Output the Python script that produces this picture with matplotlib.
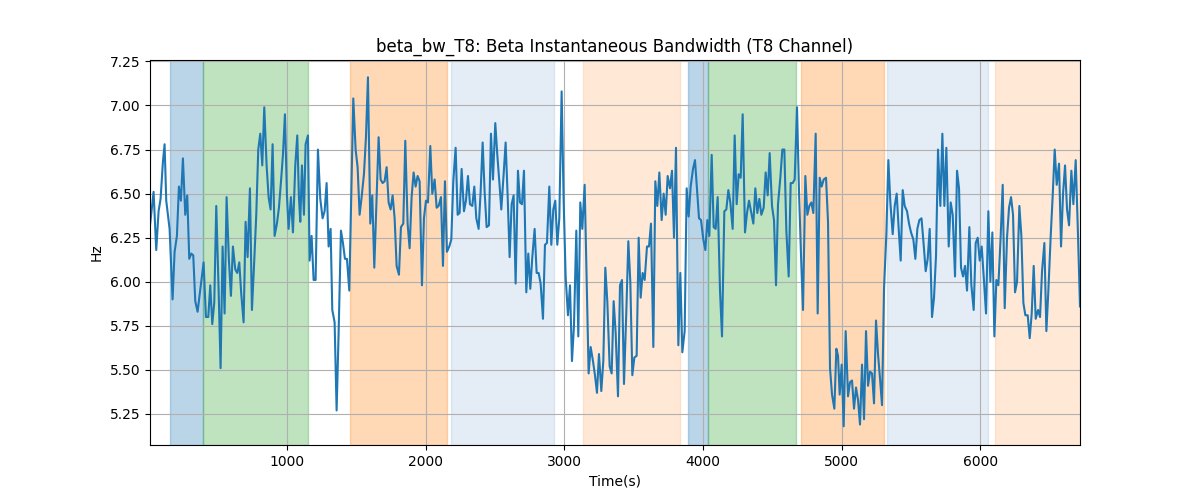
import matplotlib
matplotlib.use("Agg")
import matplotlib.pyplot as plt
import numpy as np

# ---------------------------------------------------------------------------
# Data (time in s, beta bandwidth in Hz)
# ---------------------------------------------------------------------------
time_s = [
    10, 35.8, 55.1, 71.9, 86.3, 103.2, 115.2, 127.2, 151.3, 172.9, 187.4, 204.2,
    218.6, 233.0, 247.5, 264.3, 278.7, 293.2, 307.6, 322.0, 336.5, 353.3, 379.8,
    396.6, 413.4, 430.3, 444.7, 459.1, 473.5, 488.0, 504.8, 519.2, 533.7, 548.1,
    562.5, 579.4, 593.8, 608.2, 625.1, 639.5, 654.0, 668.4, 685.2, 699.6, 714.1,
    730.9, 745.3, 759.7, 776.6, 791.0, 805.4, 819.9, 834.3,
    851.2, 865.6, 880.0, 894.4, 908.9, 925.7, 940.1, 957.0, 969.0, 983.4, 997.9,
    1009.9, 1026.7, 1041.2, 1058.0, 1072.4, 1084.4, 1094.1, 1106.1, 1120.5,
    1132.5, 1149.4, 1161.4, 1175.8, 1190.3, 1204.7, 1221.5, 1238.4, 1255.2,
    1269.6, 1284.1, 1298.5, 1312.9, 1325.0, 1341.8, 1356.2, 1370.6, 1387.5,
    1401.9, 1416.3, 1430.8, 1447.6, 1462.0, 1476.5, 1493.3, 1507.7, 1522.2,
    1536.6, 1553.4, 1567.9, 1582.3, 1599.1, 1613.5, 1628.0, 1644.8,
    1659.2, 1673.6, 1688.1, 1702.5, 1717.0, 1731.4, 1745.8, 1760.2, 1774.7,
    1789.1, 1805.9, 1820.3, 1837.2, 1851.6, 1868.4, 1882.9, 1897.3, 1911.7,
    1926.2, 1940.6, 1955.0, 1971.9, 1986.3, 2000.7, 2015.2, 2032.0, 2046.4,
    2063.3, 2077.7, 2092.1, 2109.0, 2123.4, 2137.8, 2152.2, 2169.1, 2183.5,
    2197.9, 2214.8, 2229.2, 2243.6, 2258.1, 2274.9, 2289.3, 2303.8, 2318.2,
    2335.0, 2349.5, 2363.9, 2380.7, 2395.1, 2409.6, 2424.0, 2438.4, 2455.3,
    2469.7,
    2484.1, 2500.9, 2515.4, 2529.8, 2544.2, 2561.1, 2575.5, 2589.9, 2604.3,
    2618.8, 2633.2, 2647.6, 2664.5, 2678.9, 2693.3, 2707.8, 2724.6, 2739.0,
    2753.5, 2767.9, 2784.7, 2799.2, 2813.6, 2828.0, 2844.9, 2859.3, 2873.7,
    2890.5, 2905.0, 2919.4, 2933.8, 2948.3, 2962.7, 2979.5, 2994.0, 3008.4,
    3025.2, 3039.7, 3054.1, 3068.5, 3085.4, 3099.8, 3114.2, 3128.6, 3145.5,
    3159.9, 3174.3, 3188.8, 3205.6, 3220.0, 3234.5, 3248.9, 3265.7, 3280.2,
    3294.6, 3309.0,
    3325.9, 3340.4, 3354.8, 3369.2, 3386.1, 3400.5, 3414.9, 3429.3, 3446.2,
    3460.6, 3475.0, 3489.5, 3503.9, 3520.7, 3535.2, 3549.6, 3564.0, 3578.5,
    3595.3, 3609.7, 3624.1, 3641.0, 3655.4, 3669.8, 3684.3, 3701.1, 3715.5,
    3730.0, 3744.4, 3761.2, 3775.7, 3790.1, 3804.5, 3821.4, 3835.8, 3850.2,
    3867.1, 3881.5, 3895.9, 3910.3, 3927.2, 3941.6, 3956.0, 3970.5, 3984.9,
    4001.7, 4016.2, 4030.6, 4045.0, 4061.9, 4076.3, 4090.7, 4105.1, 4122.0,
    4136.4,
    4153.2, 4167.7, 4182.1, 4196.5, 4213.3, 4227.8, 4242.2, 4256.6, 4271.1,
    4285.5, 4302.3, 4316.8, 4331.2, 4345.6, 4362.5, 4376.9, 4391.3, 4405.7,
    4420.2, 4437.0, 4451.4, 4465.9, 4480.3, 4497.1, 4511.6, 4526.0, 4540.4,
    4557.3, 4571.7, 4586.1, 4600.6, 4617.4, 4631.8, 4646.2, 4660.7, 4677.5,
    4691.9, 4706.4, 4720.8, 4737.6, 4752.1, 4766.5, 4780.9, 4795.4, 4812.2,
    4826.6, 4841.1, 4855.5, 4869.9, 4886.8, 4901.2, 4915.6, 4930.1, 4946.9,
    4961.3,
    4973.3, 4985.3, 4999.8, 5014.2, 5028.6, 5045.5, 5059.9, 5074.3, 5088.7,
    5103.2, 5117.6, 5132.0, 5146.5, 5160.9, 5175.3, 5189.8, 5204.2, 5218.6,
    5233.0, 5247.5, 5261.9, 5276.3, 5290.8, 5305.2, 5322.0, 5336.5, 5350.9,
    5367.7, 5382.2, 5396.6, 5411.0, 5425.5, 5439.9, 5454.3, 5471.2, 5485.6,
    5500.0, 5516.8, 5531.3, 5545.7, 5560.1, 5575.6, 5591.4, 5605.8, 5620.2,
    5634.7, 5651.5, 5665.9, 5680.4, 5694.8, 5711.6, 5726.1, 5740.5, 5754.9,
    5771.8, 5786.2, 5800.6,
    5817.4, 5831.9, 5846.3, 5860.7, 5875.2, 5889.6, 5904.0, 5920.8, 5935.3,
    5952.1, 5966.5, 5981.0, 5995.4, 6009.8, 6026.7, 6041.1, 6057.9, 6072.4,
    6086.8, 6101.2, 6115.7, 6130.1, 6146.9, 6161.4, 6175.8, 6192.6, 6207.0,
    6221.5, 6235.9, 6250.3, 6264.8, 6281.6, 6296.0, 6310.5, 6324.9, 6341.7,
    6356.2, 6370.6, 6385.0, 6399.4, 6416.3, 6430.7, 6445.1, 6462.0, 6476.4,
    6490.8, 6507.7, 6522.1, 6536.5, 6551.0, 6567.8, 6582.2, 6596.7, 6611.1,
    6625.5, 6640.0, 6656.8, 6671.2, 6688.0, 6702.5, 6719.0,
]

beta_bw = [
    6.32, 6.51, 6.18, 6.40, 6.47, 6.68, 6.78, 6.46, 6.30, 5.90, 6.17, 6.26,
    6.54, 6.46, 6.70, 6.38, 6.49, 6.13, 6.16, 6.15, 5.89, 5.83, 6.00,
    6.11, 5.80, 5.80, 5.98, 5.76, 5.88, 6.43, 5.96, 5.51, 6.20, 5.82,
    6.48, 6.12, 5.92, 6.20, 6.07, 6.05, 6.11, 5.93, 5.77, 6.34, 6.14,
    6.53, 5.84, 6.08, 6.38, 6.75, 6.84, 6.66, 6.99,
    6.66, 6.48, 6.41, 6.78, 6.26, 6.33, 6.42, 6.59, 6.72, 6.95, 6.49,
    6.30, 6.48, 6.28, 6.66, 6.83, 6.48, 6.34, 6.66, 6.38,
    6.78, 6.83, 6.12, 6.26, 6.01, 6.01, 6.75, 6.47, 6.36,
    6.40, 6.56, 6.20, 6.30, 5.84, 5.77, 5.27, 5.71, 6.29,
    6.22, 6.13, 6.13, 5.95, 6.48, 7.04, 6.75, 6.65, 6.38,
    6.48, 6.61, 6.82, 7.16, 6.33, 6.49, 6.08, 6.48,
    6.82, 6.58, 6.56, 6.57, 6.65, 6.45, 6.41, 6.49, 6.36,
    6.09, 6.04, 6.31, 6.33, 6.80, 6.33, 6.19, 6.48, 6.62,
    6.54, 6.60, 6.57, 5.98, 6.36, 6.46, 6.45, 6.77, 6.50,
    6.58, 6.42, 6.43, 6.48, 6.09, 6.57, 6.17, 6.20, 6.24,
    6.57, 6.76, 6.38, 6.39, 6.64, 6.40, 6.46, 6.60, 6.44,
    6.43, 6.54, 6.36, 6.30, 6.51, 6.79, 6.51, 6.31, 6.32,
    6.84,
    6.58, 6.90, 6.72, 6.57, 6.41, 6.61, 6.79, 6.49, 6.14,
    6.44, 6.49, 5.99, 6.63, 6.45, 6.44, 6.63, 5.94, 6.16,
    5.96, 6.14, 6.30, 6.05, 6.05, 5.99, 5.79, 6.21, 6.22,
    6.54, 6.21, 6.41, 6.46, 6.21, 6.36, 7.08, 6.46, 6.03,
    5.81, 5.98, 5.55, 5.75, 6.29, 5.69, 6.45, 6.30, 6.55,
    6.02, 5.48, 5.63, 5.55, 5.47, 5.37, 5.59, 5.38, 5.55,
    6.08, 5.89,
    5.52, 5.48, 5.89, 5.71, 5.35, 5.98, 6.01, 5.42, 5.83,
    6.23, 6.00, 5.47, 5.57, 5.58, 6.25, 5.91, 6.05, 6.01,
    6.20, 6.20, 6.33, 5.63, 6.57, 6.43, 6.62, 6.35, 6.50,
    6.38, 6.60, 6.53, 6.63, 6.25, 6.76, 5.64, 6.05, 5.60,
    5.72, 6.53, 6.37, 6.54, 6.64, 6.69, 6.53, 6.36, 6.35,
    6.24, 6.18, 6.35, 6.26, 6.72, 6.31, 6.30, 6.48, 5.95,
    5.69,
    6.40, 6.41, 6.52, 6.45, 6.30, 6.83, 6.44, 6.61, 6.59,
    6.95, 6.28, 6.39, 6.46, 6.40, 6.33, 6.53, 6.39, 6.47,
    6.38, 6.42, 6.62, 6.49, 6.73, 6.43, 6.35, 5.98, 6.44,
    6.59, 6.75, 6.75, 6.29, 6.03, 6.56, 6.56, 6.58, 6.99,
    6.51, 6.15, 5.84, 6.60, 6.38, 6.43, 6.45, 6.39, 6.84,
    5.82, 6.59, 6.54, 6.58, 6.59, 6.34, 5.51, 5.36, 5.28,
    5.62,
    5.58, 5.36, 5.53, 5.18, 5.72, 5.35, 5.43, 5.44, 5.28,
    5.40, 5.33, 5.19, 5.53, 5.22, 5.72, 5.41, 5.49, 5.48,
    5.31, 5.78, 5.59, 5.45, 5.30, 5.96, 6.27, 6.69, 6.45,
    6.27, 6.43, 6.50, 6.30, 6.12, 6.52, 6.43, 6.40, 6.33,
    6.28, 6.24, 6.13, 6.30, 6.35, 6.36, 6.21, 6.06, 6.13,
    6.30, 5.80, 5.91, 6.15, 6.75, 6.43, 6.84, 6.43, 6.76,
    6.20, 6.45, 6.38,
    6.03, 6.63, 6.53, 6.08, 6.03, 6.09, 5.95, 6.31, 5.98,
    5.84, 6.22, 6.25, 6.12, 6.20, 6.00, 5.82, 6.40, 6.00,
    6.28, 5.69, 6.01, 5.98, 6.26, 6.55, 5.85, 6.25, 6.42,
    6.48, 6.38, 5.94, 6.00, 6.43, 6.26, 5.88, 5.81, 5.81,
    5.68, 5.82, 6.09, 5.79, 5.84, 5.80, 6.06, 6.22, 5.72,
    5.95, 6.26, 6.49, 6.75, 6.55, 6.67, 6.20, 6.50, 6.66,
    6.41, 6.32, 6.63, 6.44, 6.69, 6.32, 5.86,
]

# shaded epochs: start, end, colour, alpha
span_start = [154, 392, 1452, 2181, 3133, 3891, 4036, 4706, 5327, 6106]
span_end = [392, 1147, 2152, 2922, 3833, 4036, 4671, 5305, 6053, 6800]
span_color = ["tab:blue", "tab:green", "tab:orange", "#78A0D2", "tab:orange",
              "tab:blue", "tab:green", "tab:orange", "#78A0D2", "tab:orange"]
span_alpha = [0.3, 0.3, 0.3, 0.2, 0.17, 0.3, 0.3, 0.3, 0.2, 0.17]

fig, ax = plt.subplots(figsize=(12, 5))

for s, e, c, a in zip(span_start, span_end, span_color, span_alpha):
    ax.axvspan(s, e, color=c, alpha=a)

ax.plot(time_s, beta_bw, color="tab:blue", linewidth=1.5)

ax.set_xlim(min(time_s), max(time_s))
ax.set_ylim(5.074, 7.258)
ax.set_title("beta_bw_T8: Beta Instantaneous Bandwidth (T8 Channel)")
ax.set_xlabel("Time(s)")
ax.set_ylabel("Hz")
ax.grid(True)

fig.savefig("out.png", dpi=100)
